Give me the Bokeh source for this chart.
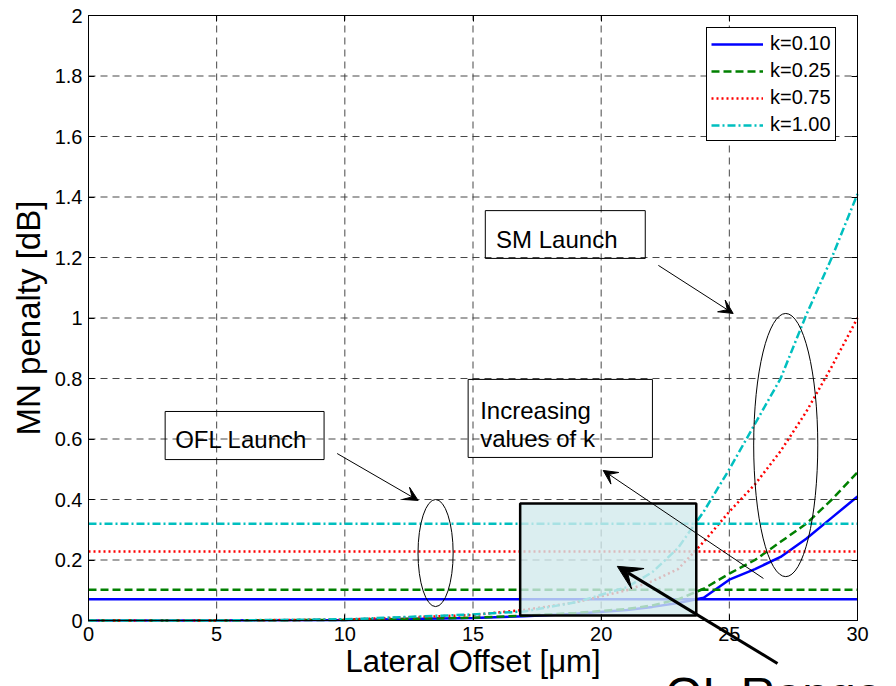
import math
from bokeh.plotting import figure
from bokeh.models import Range1d, FixedTicker, Label, Arrow, VeeHead, LinearAxis, BoxAnnotation
from bokeh.embed import file_html
from bokeh.resources import INLINE

# ---------------- data ----------------
offset = [0, 5, 10, 15, 17, 19, 21, 22, 23, 24, 25, 26, 27, 28, 29, 30]
k_labels = ["k=0.10", "k=0.25", "k=0.75", "k=1.00"]
sm_k010 = [0, 0, 0.002, 0.008, 0.014, 0.022, 0.035, 0.045, 0.058, 0.075, 0.135, 0.17, 0.21, 0.27, 0.34, 0.41]
sm_k025 = [0, 0, 0.002, 0.009, 0.016, 0.025, 0.038, 0.05, 0.07, 0.105, 0.155, 0.2, 0.26, 0.32, 0.4, 0.49]
sm_k075 = [0, 0, 0.003, 0.018, 0.035, 0.06, 0.1, 0.13, 0.17, 0.26, 0.36, 0.45, 0.56, 0.69, 0.84, 1.0]
sm_k100 = [0, 0, 0.004, 0.02, 0.03, 0.06, 0.11, 0.16, 0.24, 0.36, 0.5, 0.65, 0.8, 1.01, 1.2, 1.41]
ofl_values = [0.07, 0.102, 0.228, 0.32]
x_ticks = [0, 5, 10, 15, 20, 25, 30]
y_ticks = [0, 0.2, 0.4, 0.6, 0.8, 1.0, 1.2, 1.4, 1.6, 1.8, 2.0]
y_tick_labels = ["0", "0.2", "0.4", "0.6", "0.8", "1", "1.2", "1.4", "1.6", "1.8", "2"]
x_lim = (0, 30)
y_lim = (0, 2)

colors = ["#0000ff", "#008000", "#ff0000", "#00bfbf"]
dashes = ["solid", "8 4", "2 3", "8 3 2 3"]
series = [sm_k010, sm_k025, sm_k075, sm_k100]

FONT = "Liberation Sans"

# layout geometry (pixels): axes box 88..857 x 15..620 inside a 896x686 canvas.
W, H = 896, 686
BOX_L, BOX_R, BOX_T, BOX_B = 88, 857, 15, 620
# the drawing frame covers the whole canvas, so that the annotations outside
# the axes box (as in the original) stay visible; the axes are pinned to the box
sx = (x_lim[1] - x_lim[0]) / (BOX_R - BOX_L)
sy = (y_lim[1] - y_lim[0]) / (BOX_B - BOX_T)
x_start = x_lim[0] - BOX_L * sx
x_end = x_lim[1] + (W - BOX_R) * sx
y_start = y_lim[0] - (H - BOX_B) * sy
y_end = y_lim[1] + BOX_T * sy

p = figure(width=W, height=H, output_backend="svg", toolbar_location=None,
           x_range=Range1d(x_start, x_end), y_range=Range1d(y_start, y_end),
           min_border_left=0, min_border_right=0, min_border_top=0, min_border_bottom=0)
p.outline_line_color = None
p.xgrid.visible = False
p.ygrid.visible = False

p.xaxis.fixed_location = y_lim[0]
p.yaxis.fixed_location = x_lim[0]
p.xaxis.bounds = x_lim
p.yaxis.bounds = y_lim
p.xaxis.ticker = FixedTicker(ticks=x_ticks)
p.yaxis.ticker = FixedTicker(ticks=y_ticks)
p.yaxis.major_label_overrides = {t: l for t, l in zip(y_ticks, y_tick_labels)}
for ax in (p.xaxis[0], p.yaxis[0]):
    ax.major_tick_in = 6
    ax.major_tick_out = 0
    ax.minor_tick_line_color = None
    ax.major_label_text_font = FONT
    ax.major_label_text_font_size = "20px"
    ax.major_label_text_color = "black"
    ax.axis_line_color = "black"
    ax.major_tick_line_color = "black"
    ax.major_label_standoff = 6
    ax.axis_label_text_font = FONT
    ax.axis_label_text_font_style = "normal"
    ax.axis_label_text_color = "black"
p.xaxis.axis_label = "Lateral Offset [\u03bcm]"
p.yaxis.axis_label = "MN penalty [dB]"
p.xaxis.axis_label_text_font_size = "31px"
p.yaxis.axis_label_text_font_size = "33px"
p.xaxis.axis_label_standoff = 0
p.yaxis.axis_label_standoff = 5

# box-style inward ticks on the top and right edges
p.add_layout(LinearAxis(fixed_location=y_lim[1], bounds=x_lim, ticker=FixedTicker(ticks=x_ticks),
                        major_tick_in=6, major_tick_out=0, minor_tick_line_color=None,
                        axis_line_color=None, major_label_text_color=None), "above")
p.add_layout(LinearAxis(fixed_location=x_lim[1], bounds=y_lim, ticker=FixedTicker(ticks=y_ticks),
                        major_tick_in=6, major_tick_out=0, minor_tick_line_color=None,
                        axis_line_color=None, major_label_text_color=None), "right")

# dashed grid lines, limited to the axes box
grid_style = dict(line_color="#333333", line_alpha=0.9, line_width=1, line_dash="7 5")
p.segment(x0=x_ticks, y0=[y_lim[0]] * len(x_ticks), x1=x_ticks, y1=[y_lim[1]] * len(x_ticks), **grid_style)
p.segment(x0=[x_lim[0]] * len(y_ticks), y0=y_ticks, x1=[x_lim[1]] * len(y_ticks), y1=y_ticks, **grid_style)

# SM launch curves (in legend) and OFL launch flat lines
for lab, ys, c, d, ofl in zip(k_labels, series, colors, dashes, ofl_values):
    p.line(offset, ys, line_color=c, line_dash=d, line_width=2.5, legend_label=lab)
    p.line([offset[0], offset[-1]], [ofl, ofl], line_color=c, line_dash=d, line_width=2.5)

# OL range shaded box
p.quad(left=16.84, right=23.71, bottom=0.0165, top=0.387,
       fill_color="#d2eaec", fill_alpha=0.8, line_color="black", line_width=2.5)

# ellipses
p.ellipse(x=27.2, y=0.58, width=2.5, height=0.87, fill_color=None, line_color="black", line_width=1)
p.ellipse(x=13.54, y=0.223, width=1.37, height=0.354, fill_color=None, line_color="black", line_width=1)

# text boxes
p.quad(left=[15.48, 14.81, 2.99], right=[21.72, 22.0, 9.19],
       bottom=[1.197, 0.539, 0.532], top=[1.355, 0.797, 0.691],
       fill_color=None, line_color="black", line_width=1)

# axes box outline
p.add_layout(BoxAnnotation(left=x_lim[0], right=x_lim[1], bottom=y_lim[0], top=y_lim[1],
                           fill_color=None, line_color="black", line_width=1, line_alpha=1))

def lab(x, y, t, size="24px"):
    p.add_layout(Label(x=x, y=y, text=t, text_font=FONT, text_font_size=size,
                       text_color="black", text_baseline="alphabetic"))

lab(15.9, 1.26, "SM Launch")
lab(15.28, 0.694, "Increasing")
lab(15.28, 0.602, "values of k")
lab(3.38, 0.598, "OFL Launch")
lab(22.5, -0.243, "OL Range", size="48px")

# arrows
def arrow(xs, ys, xe, ye, w, size):
    p.add_layout(Arrow(end=VeeHead(size=size, fill_color="black", line_color="black"),
                       x_start=xs, y_start=ys, x_end=xe, y_end=ye,
                       line_color="black", line_width=w))

arrow(22.23, 1.174, 25.15, 1.015, 1, 14)
arrow(9.7, 0.552, 12.86, 0.397, 1, 14)
arrow(26.33, 0.139, 20.08, 0.496, 1, 14)
arrow(26.88, -0.142, 20.63, 0.179, 3, 24)

# legend
lg = p.legend[0]
lg.location = (706, H - 141)
lg.label_text_font = FONT
lg.label_text_font_size = "20px"
lg.label_text_color = "black"
lg.border_line_color = "black"
lg.border_line_width = 1
lg.border_line_alpha = 1
lg.background_fill_alpha = 1
lg.glyph_width = 52
lg.glyph_height = 22
lg.label_height = 22
lg.label_standoff = 7
lg.spacing = 4
lg.padding = 4

open("out.html", "w").write(file_html(p, INLINE))
